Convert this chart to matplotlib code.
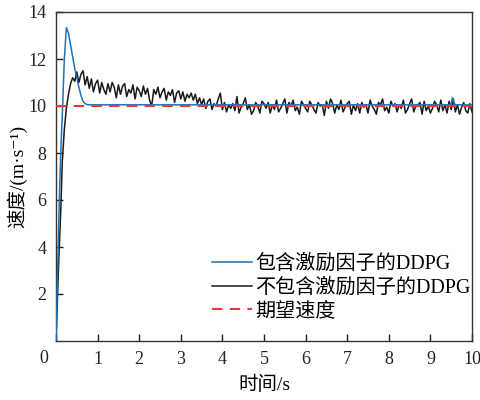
import numpy as np
import matplotlib
matplotlib.use('Agg')
import matplotlib.pyplot as plt

# 字体：数字用 Times 风格，中文回退到思源黑体
plt.rcParams['font.family'] = ['Liberation Serif', 'Noto Sans CJK SC', 'DejaVu Serif']
plt.rcParams['axes.unicode_minus'] = False

# 包含激励因子的 DDPG（蓝线）
blue_t = [0.0, 0.04, 0.08, 0.12, 0.16, 0.20, 0.25, 0.30, 0.35, 0.40, 0.45,
          0.50, 0.55, 0.60, 0.65, 0.70, 0.75, 0.80, 0.90, 1.5, 3.0, 5.0,
          7.0, 9.45, 9.50, 9.53, 9.56, 9.60, 10.0]
blue_v = [0.0, 3.0, 6.0, 8.3, 10.0, 12.0, 13.33, 13.1, 12.6, 12.1, 11.6,
          11.2, 10.8, 10.45, 10.2, 10.1, 10.06, 10.05, 10.05, 10.05, 10.05, 10.05,
          10.05, 10.05, 10.1, 10.35, 10.15, 10.05, 10.05]

# 不包含激励因子的 DDPG（黑线）：起步段
black_rise_t = [0.0, 0.07, 0.12, 0.15, 0.20, 0.25]
black_rise_v = [0.0, 3.6, 5.8, 7.6, 9.0, 9.9]
# 0.30 s 之后每 0.05 s 一个采样
black_step = 0.05
black_v = [
    10.5, 10.95, 11.2, 11.05, 11.45, 11.0, 11.35, 11.5, 10.9, 11.25,
    10.75, 11.15, 10.6, 10.95, 11.1, 10.55, 11.0, 10.7, 10.5, 10.95,
    10.6, 11.0, 10.8, 10.35, 10.9, 10.5, 10.85, 10.95, 10.4, 10.7,
    10.55, 10.9, 10.3, 10.8, 10.65, 10.4, 10.85, 10.5, 10.75, 10.25,
    10.0, 10.7, 10.5, 10.8, 10.35, 10.6, 10.75, 10.25, 10.6, 10.45,
    10.7, 10.15, 10.55, 10.65, 10.3, 10.6, 10.2, 10.5, 10.35, 10.55,
    10.25, 10.5, 10.1, 10.35, 10.05, 10.3, 9.9, 10.2, 10.3, 9.85,
    10.1, 10.0, 10.3, 10.55, 9.85, 10.15, 9.75, 10.05, 9.9, 10.1,
    9.8, 10.4, 9.7, 9.95, 10.1, 10.35, 9.85, 10.05, 9.65, 9.8,
    10.15, 10.0, 9.7, 10.2, 10.1, 9.9, 10.15, 9.7, 10.05, 9.85,
    10.25, 9.75, 9.9, 10.1, 10.3, 9.7, 10.15, 10.0, 10.25, 9.8,
    9.95, 9.65, 10.2, 10.05, 9.9, 9.75, 10.2, 10.05, 9.85, 9.7,
    10.15, 10.0, 10.05, 9.6, 10.2, 9.9, 10.3, 10.1, 9.7, 10.05,
    9.85, 10.25, 9.75, 9.95, 10.1, 10.2, 9.65, 10.05, 9.8, 10.1,
    9.7, 10.15, 9.95, 10.05, 9.7, 10.25, 10.0, 9.85, 9.65, 10.15,
    10.05, 10.3, 9.8, 9.95, 9.7, 10.2, 10.0, 10.1, 9.75, 10.05,
    9.9, 10.25, 9.7, 9.85, 10.1, 10.3, 9.75, 10.0, 10.05, 10.15,
    9.65, 10.2, 9.8, 10.0, 9.7, 9.9, 10.2, 10.05, 9.75, 10.25,
    9.8, 10.05, 9.7, 10.2, 9.85, 10.3, 9.75, 10.05, 9.65, 9.95,
    10.15, 9.8, 9.7, 10.1, 9.75,
]

target_speed = 10.0

labels = ['包含激励因子的DDPG', '不包含激励因子的DDPG', '期望速度']

black_t = black_rise_t + list(0.30 + black_step * np.arange(len(black_v)))
black_all = black_rise_v + black_v

fig = plt.figure(figsize=(4.8, 4.0), dpi=100)
ax = fig.add_axes([56 / 480, 1 - 341 / 400, 416 / 480, 329 / 400])

ax.plot(blue_t, blue_v, color='#1f72b8', lw=1.1, label=labels[0], zorder=3)
ax.plot(black_t, black_all, color='#1a1a1a', lw=1.1, label=labels[1], zorder=2)
ax.plot([0, 10], [target_speed, target_speed], color='#e8383d', lw=1.5,
        dashes=(5, 3.5), label=labels[2], zorder=4)

ax.set_xlim(0, 10)
ax.set_ylim(0, 14)
ax.set_xticks(range(0, 11))
ax.set_xticklabels([''] + [str(i) for i in range(1, 11)])
ax.set_yticks(range(2, 15, 2))
ax.tick_params(direction='in', length=5, width=1, labelsize=13,
               colors='#222222', pad=7)
ax.text(-0.03, -0.028, '0', transform=ax.transAxes, ha='center', va='top',
        fontsize=13, color='#222222')
for sp in ax.spines.values():
    sp.set_color('#333333')
    sp.set_linewidth(1.0)

ax.set_xlabel('时间/s', fontsize=14, labelpad=6)
ax.set_ylabel('速度/(m·s⁻¹)', fontsize=14, labelpad=1)

ax.legend(loc='upper left', bbox_to_anchor=(202 / 480, 1 - 245 / 400),
          bbox_transform=fig.transFigure, frameon=False, fontsize=14.5,
          borderpad=0, labelspacing=0.22, handlelength=2.0,
          handletextpad=0.15)

fig.savefig('out.png', dpi=100)
